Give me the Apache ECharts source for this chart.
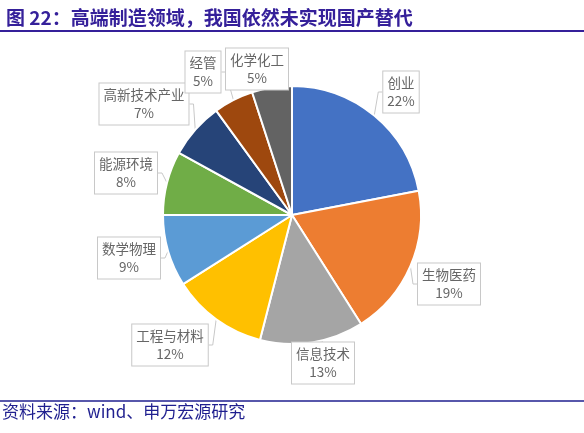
<!DOCTYPE html>
<html><head><meta charset="utf-8">
<script src="https://cdn.jsdelivr.net/npm/echarts@6/dist/echarts.min.js"></script>
<style>html,body{margin:0;padding:0;background:#fff}#c{width:584px;height:433px}</style>
</head><body><div id="c"></div>
<script>
const categories = ['创业','生物医药','信息技术','工程与材料','数学物理','能源环境','高新技术产业','经管','化学化工'];
const values = [22,19,13,12,9,8,7,5,5];
const colors = ['#4472C4','#ED7D31','#A5A5A5','#FFC000','#5B9BD5','#70AD47','#264478','#9E480E','#636363'];
// label box centers (layout, not data)
const labelPos = [[401,92],[449,284],[323,363],[170,345],[129,258],[126,173],[144,104],[203,72],[257,69]];

const chart = echarts.init(document.getElementById('c'));
chart.setOption({
  animation:false,
  color: colors,
  title:{
    text:'图 22：高端制造领域，我国依然未实现国产替代',
    left:1, top:3,
    textStyle:{fontFamily:'Noto Sans CJK SC', fontWeight:'bold', fontSize:19, color:'#35209A'}
  },
  graphic:[
    {type:'line', shape:{x1:0,y1:31,x2:584,y2:31}, style:{stroke:'#35209A', lineWidth:2}},
    {type:'line', shape:{x1:0,y1:401,x2:584,y2:401}, style:{stroke:'#1F1F8F', lineWidth:1.5}},
    {type:'text', left:2, top:403, style:{text:'资料来源：wind、申万宏源研究', fontFamily:'Noto Sans CJK SC', fontSize:17, fill:'#1F1F8F'}}
  ],
  series:[{
    type:'pie',
    center:[292,215],
    radius:129,
    startAngle:90,
    clockwise:true,
    itemStyle:{borderColor:'#fff', borderWidth:2},
    label:{
      show:true,
      formatter:'{b}\n{d}%',
      fontFamily:'Noto Sans CJK SC',
      fontSize:13.5,
      lineHeight:18,
      color:'#666666',
      backgroundColor:'#fff',
      borderColor:'#C8C8C8',
      borderWidth:1,
      padding:[3,4,2,4],
      align:'center'
    },
    labelLine:{show:true, length:6, length2:4, lineStyle:{color:'#C8C8C8', width:1}},
    labelLayout:function(p){
      const pos = labelPos[p.dataIndex];
      return {x:pos[0], y:pos[1], align:'center', verticalAlign:'middle'};
    },
    data: categories.map((n,i)=>({name:n, value:values[i]}))
  }]
});
</script></body></html>
